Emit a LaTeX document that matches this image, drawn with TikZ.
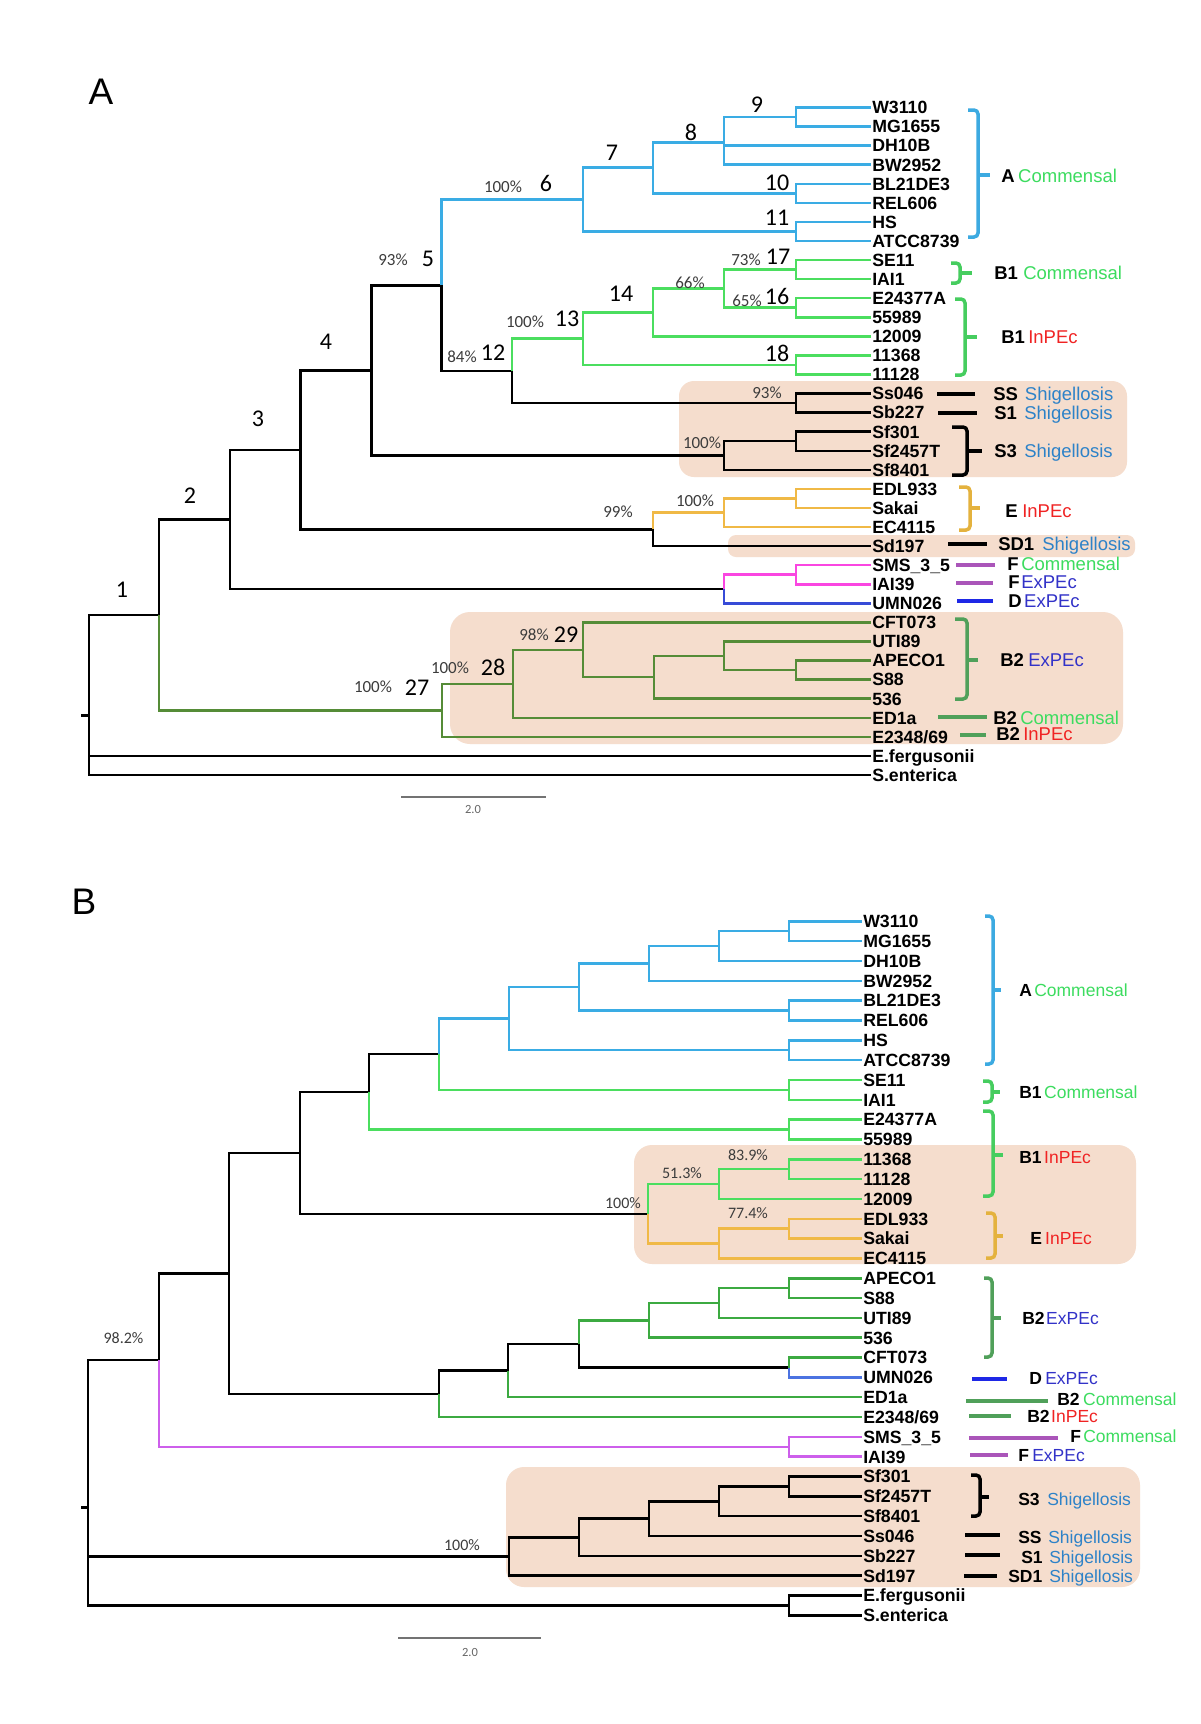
\documentclass[tikz,border=0pt]{standalone}
\usepackage{fontspec}
\setmainfont{Liberation Sans}
\newfontfamily\calib{Carlito}
\definecolor{cA}{RGB}{58,172,228}
\definecolor{cB1}{RGB}{75,222,95}
\definecolor{cB2a}{RGB}{85,140,55}
\definecolor{cB2b}{RGB}{60,170,65}
\definecolor{cE}{RGB}{240,185,70}
\definecolor{cMa}{RGB}{250,70,225}
\definecolor{cMb}{RGB}{205,95,235}
\definecolor{cDa}{RGB}{55,75,215}
\definecolor{cDb}{RGB}{75,115,225}
\definecolor{tComm}{RGB}{60,220,95}
\definecolor{tRed}{RGB}{240,35,35}
\definecolor{tEx}{RGB}{50,50,200}
\definecolor{tShig}{RGB}{45,130,200}
\definecolor{kA}{RGB}{60,170,225}
\definecolor{kPur}{RGB}{170,85,185}
\definecolor{kB1}{RGB}{70,205,95}
\definecolor{kB2}{RGB}{80,160,90}
\definecolor{kE}{RGB}{228,178,62}
\definecolor{kD}{RGB}{30,40,230}
\definecolor{boxc}{RGB}{245,221,205}
\definecolor{pctc}{RGB}{60,60,60}
\newcommand\mylab[4]{\textbf{#1}\hspace{#2pt}\textcolor{#3}{#4}}
\newcommand\mybrk[7]{\draw[brk,#1] (#6,#3) -- (#2,#3) -- (#2,#4) -- (#6,#4); \draw[brk,#1] (#2,#5) -- (#7,#5);}
\newcommand\mydash[4]{\draw[dsh,#1] (#2,#4) -- (#3,#4);}
\begin{document}
\begin{tikzpicture}[x=1pt,y=-1pt,line width=2.5pt,
  leaf/.style={anchor=west,inner sep=0pt,font=\fontsize{17.7}{19}\selectfont\bfseries,text height=12.7pt,text depth=0pt},
  ann/.style={anchor=west,inner sep=0pt,font=\fontsize{18.5}{20}\selectfont,text height=13.2pt,text depth=0pt},
  annB/.style={anchor=west,inner sep=0pt,font=\fontsize{17.5}{19}\selectfont,text height=12.5pt,text depth=0pt},
  pct/.style={inner sep=0pt,text=pctc,font=\calib\fontsize{17}{18}\selectfont},
  pctB/.style={inner sep=0pt,text=pctc,font=\calib\fontsize{16}{17}\selectfont},
  num/.style={inner sep=0pt,font=\calib\fontsize{24}{26}\selectfont},
  brk/.style={line width=3.5pt,rounded corners=4pt},
  dsh/.style={line width=4pt},
  sbar/.style={line width=1.4pt,draw=black!55},
  stxt/.style={inner sep=0pt,text=black!60,font=\calib\fontsize{12.5}{13}\selectfont},
  panel/.style={inner sep=0pt,font=\fontsize{37}{40}\selectfont}]
\fill[white] (0,0) rectangle (1200,1724);
\useasboundingbox (0,0) rectangle (1200,1724);

% ---------- shaded boxes
\fill[boxc,rounded corners=15pt] (679,381) rectangle (1127,477);
\fill[boxc,rounded corners=8pt] (728,535) rectangle (1135,557);
\fill[boxc,rounded corners=20pt] (450,612) rectangle (1123,744);
\fill[boxc,rounded corners=18pt] (634,1145) rectangle (1136,1264);
\fill[boxc,rounded corners=18pt] (506,1467) rectangle (1140,1587);

\node[panel] (pA) at (101,92) {A};
\node[panel] (pB) at (84,902) {B};

% ---------- panel A leaves
\foreach \n [count=\i] in {W3110,MG1655,DH10B,BW2952,BL21DE3,REL606,HS,ATCC8739,SE11,IAI1,E24377A,55989,12009,11368,11128,Ss046,Sb227,Sf301,Sf2457T,Sf8401,EDL933,Sakai,EC4115,Sd197,SMS\_3\_5,IAI39,UMN026,CFT073,UTI89,APECO1,S88,536,ED1a,{E2348/69},E.fergusonii,S.enterica}{
  \coordinate (ea\i) at (871,{107.5+19.07*(\i-1)});
  \node[leaf] (la\i) at (ea\i) {\n};
}
% ---------- panel A internal nodes
\coordinate (naR) at (89,715.3);
\coordinate (naS) at (81,715.3);
\coordinate (na1) at (159,614.9);
\coordinate (na2) at (230,519.5);
\coordinate (na3) at (300.7,449.9);
\coordinate (na4) at (371.7,370.4);
\coordinate (na5) at (441.7,285.3);
\coordinate (na6) at (583,199.6);
\coordinate (na7) at (653,167.7);
\coordinate (na8) at (724,142.4);
\coordinate (na9) at (796,117.0);
\coordinate (na10) at (796,193.3);
\coordinate (na11) at (796,231.5);
\coordinate (na12) at (512,370.9);
\coordinate (na13) at (583,338.7);
\coordinate (na14) at (653,312.5);
\coordinate (na15) at (724,288.7);
\coordinate (na16) at (796,307.7);
\coordinate (na17) at (796,269.6);
\coordinate (na18) at (796,364.9);
\coordinate (naSS) at (796,403.1);
\coordinate (naSf) at (724,455.5);
\coordinate (naSf2) at (796,441.2);
\coordinate (naESd) at (653,529.4);
\coordinate (naE) at (724,512.7);
\coordinate (naEs) at (796,498.4);
\coordinate (naFD) at (724,589.0);
\coordinate (naF) at (796,574.7);
\coordinate (na27) at (442,710.3);
\coordinate (na28) at (513,683.8);
\coordinate (na29) at (583,649.8);
\coordinate (na30) at (654,677.2);
\coordinate (na31) at (724,655.8);
\coordinate (na32) at (796,670.1);

\draw (naR) -- (naS);
\foreach \p/\c in {naR/na1,naR/ea35,naR/ea36,na1/na2,na2/na3,na2/naFD,na3/na4,na3/naESd,na4/na5,na4/naSf,na5/na12,na12/naSS,naSS/ea16,naSS/ea17,naSf/naSf2,naSf/ea20,naSf2/ea18,naSf2/ea19,naESd/ea24}
  \draw (\p) |- (\c);
\foreach \p/\c in {na5/na6,na6/na7,na6/na11,na7/na8,na7/na10,na8/na9,na8/ea3,na8/ea4,na9/ea1,na9/ea2,na10/ea5,na10/ea6,na11/ea7,na11/ea8}
  \draw[cA] (\p) |- (\c);
\foreach \p/\c in {na12/na13,na13/na14,na13/na18,na14/na15,na14/ea13,na15/na17,na15/na16,na17/ea9,na17/ea10,na16/ea11,na16/ea12,na18/ea14,na18/ea15}
  \draw[cB1] (\p) |- (\c);
\foreach \p/\c in {naESd/naE,naE/naEs,naE/ea23,naEs/ea21,naEs/ea22}
  \draw[cE] (\p) |- (\c);
\foreach \p/\c in {naFD/naF,naF/ea25,naF/ea26}
  \draw[cMa] (\p) |- (\c);
\draw[cDa] (naFD) |- (ea27);
\foreach \p/\c in {na1/na27,na27/na28,na27/ea34,na28/na29,na28/ea33,na29/ea28,na29/na30,na30/na31,na30/ea32,na31/ea29,na31/na32,na32/ea30,na32/ea31}
  \draw[cB2a] (\p) |- (\c);

% ---------- panel A node labels
\node[num] (ka1) at (122,590) {1};
\node[num] (ka2) at (190,496) {2};
\node[num] (ka3) at (258,419) {3};
\node[num] (ka4) at (326,342) {4};
\node[num] (ka5) at (428,259) {5};
\node[num] (ka6) at (546,183) {6};
\node[num] (ka7) at (612,153) {7};
\node[num] (ka8) at (691,132) {8};
\node[num] (ka9) at (757,105) {9};
\node[num] (ka10) at (777,183) {10};
\node[num] (ka11) at (777,218) {11};
\node[num] (ka17) at (778,257) {17};
\node[num] (ka16) at (777,296) {16};
\node[num] (ka14) at (621,294) {14};
\node[num] (ka13) at (567,319) {13};
\node[num] (ka12) at (493,353) {12};
\node[num] (ka18) at (777,353) {18};
\node[num] (ka27) at (417,688) {27};
\node[num] (ka28) at (493,667) {28};
\node[num] (ka29) at (566,635) {29};
\node[pct] (qa1) at (393,260) {93\%};
\node[pct] (qa2) at (503,187) {100\%};
\node[pct] (qa3) at (746,260) {73\%};
\node[pct] (qa4) at (690,283) {66\%};
\node[pct] (qa5) at (747,301) {65\%};
\node[pct] (qa6) at (525,322) {100\%};
\node[pct] (qa7) at (462,357) {84\%};
\node[pct] (qa8) at (767,393) {93\%};
\node[pct] (qa9) at (702,443) {100\%};
\node[pct] (qa10) at (618,512) {99\%};
\node[pct] (qa11) at (695,501) {100\%};
\node[pct] (qa12) at (373,687) {100\%};
\node[pct] (qa13) at (450,668) {100\%};
\node[pct] (qa14) at (534,635) {98\%};

% ---------- panel A annotations
\mybrk{kA}{978}{110}{237}{175}{968}{990}
\mybrk{kB1}{960}{263}{283}{273}{951}{972}
\mybrk{kB1}{965}{299}{375}{337}{955}{977}
\mybrk{black}{967}{427}{475}{451}{952}{982}
\mybrk{kE}{970}{487}{530}{508}{959}{980}
\mybrk{kB2}{967}{619}{699}{660}{955}{978}
\mydash{black}{937}{975}{394}
\mydash{black}{938}{977}{413}
\mydash{black}{948}{987}{544}
\mydash{kPur}{956}{995}{565}
\mydash{kPur}{956}{993}{583}
\mydash{kD}{957}{993}{601}
\mydash{kB2}{938}{987}{717}
\mydash{kB2}{960}{986}{735}
\node[ann] (ta1) at (1000,176) {\mylab{A}{3.6}{tComm}{Commensal}};
\node[ann] (ta2) at (993,273) {\mylab{B1}{5.4}{tComm}{Commensal}};
\node[ann] (ta3) at (1000,337) {\mylab{B1}{3.4}{tRed}{InPEc}};
\node[ann] (ta4) at (992,394) {\mylab{SS}{7}{tShig}{Shigellosis}};
\node[ann] (ta5) at (993,413) {\mylab{S1}{7.4}{tShig}{Shigellosis}};
\node[ann] (ta6) at (993,451) {\mylab{S3}{7.4}{tShig}{Shigellosis}};
\node[ann] (ta7) at (1004,511) {\mylab{E}{4.7}{tRed}{InPEc}};
\node[ann] (ta8) at (997,544) {\mylab{SD1}{8}{tShig}{Shigellosis}};
\node[ann] (ta9) at (1006,564) {\mylab{F}{2.7}{tComm}{Commensal}};
\node[ann] (ta10) at (1007,582) {\mylab{F}{1.7}{tEx}{ExPEc}};
\node[ann] (ta11) at (1007,601) {\mylab{D}{2.6}{tEx}{ExPEc}};
\node[ann] (ta12) at (999,660) {\mylab{B2}{4.4}{tEx}{ExPEc}};
\node[ann] (ta13) at (992,718) {\mylab{B2}{3.4}{tComm}{Commensal}};
\node[ann] (ta14) at (995,734) {\mylab{B2}{3.4}{tRed}{InPEc}};

% scale bar A
\coordinate (sa1) at (401,797);
\coordinate (sa2) at (546,797);
\draw[sbar] (sa1) -- (sa2);
\node[stxt] (sat) at (473,809) {2.0};

% ---------- panel B leaves
\foreach \n [count=\i] in {W3110,MG1655,DH10B,BW2952,BL21DE3,REL606,HS,ATCC8739,SE11,IAI1,E24377A,55989,11368,11128,12009,EDL933,Sakai,EC4115,APECO1,S88,UTI89,536,CFT073,UMN026,ED1a,{E2348/69},SMS\_3\_5,IAI39,Sf301,Sf2457T,Sf8401,Ss046,Sb227,Sd197,E.fergusonii,S.enterica}{
  \coordinate (eb\i) at (862,{921.3+19.83*(\i-1)});
  \node[leaf] (lb\i) at (eb\i) {\n};
}
% ---------- panel B internal nodes
\coordinate (nbR) at (88,1507.4);
\coordinate (nbS) at (81,1507.4);
\coordinate (nb1) at (789,931.2);
\coordinate (nb2) at (719,946.1);
\coordinate (nb3) at (649,963.5);
\coordinate (nb4) at (789,1010.6);
\coordinate (nb5) at (579,987.0);
\coordinate (nb6) at (789,1050.2);
\coordinate (nb7) at (509,1018.6);
\coordinate (nb8) at (789,1089.9);
\coordinate (nb9) at (439,1054.2);
\coordinate (nb10) at (789,1129.5);
\coordinate (nb11) at (369,1091.9);
\coordinate (nb12) at (789,1169.2);
\coordinate (nb13) at (719,1184.0);
\coordinate (nb14) at (789,1228.7);
\coordinate (nb15) at (719,1243.6);
\coordinate (nb16) at (648,1213.8);
\coordinate (nb17) at (300,1152.9);
\coordinate (nb18) at (789,1288.2);
\coordinate (nb19) at (719,1303.0);
\coordinate (nb20) at (649,1320.4);
\coordinate (nb21) at (789,1367.5);
\coordinate (nb22) at (579,1344.0);
\coordinate (nb23) at (508,1370.6);
\coordinate (nb24) at (439,1393.8);
\coordinate (nb25) at (229,1273.4);
\coordinate (nb26) at (789,1446.8);
\coordinate (nb27) at (159,1360.1);
\coordinate (nb28) at (789,1486.5);
\coordinate (nb29) at (719,1501.3);
\coordinate (nb30) at (649,1518.7);
\coordinate (nb31) at (579,1537.3);
\coordinate (nb32) at (509,1556.5);
\coordinate (nb33) at (789,1605.5);

\draw (nbR) -- (nbS);
\foreach \p/\c in {nbR/nb27,nbR/nb32,nbR/nb33,nb33/eb35,nb33/eb36,nb27/nb25,nb25/nb17,nb25/nb24,nb17/nb11,nb17/nb16,nb11/nb9,nb24/nb23,nb23/nb22,nb22/nb21,nb32/nb31,nb32/eb34,nb31/nb30,nb31/eb33,nb30/nb29,nb30/eb32,nb29/nb28,nb29/eb31,nb28/eb29,nb28/eb30}
  \draw (\p) |- (\c);
\foreach \p/\c in {nb9/nb7,nb7/nb5,nb7/nb6,nb5/nb3,nb5/nb4,nb3/nb2,nb3/eb4,nb2/nb1,nb2/eb3,nb1/eb1,nb1/eb2,nb4/eb5,nb4/eb6,nb6/eb7,nb6/eb8}
  \draw[cA] (\p) |- (\c);
\foreach \p/\c in {nb9/nb8,nb8/eb9,nb8/eb10,nb11/nb10,nb10/eb11,nb10/eb12,nb16/nb13,nb13/nb12,nb13/eb15,nb12/eb13,nb12/eb14}
  \draw[cB1] (\p) |- (\c);
\foreach \p/\c in {nb16/nb15,nb15/nb14,nb15/eb18,nb14/eb16,nb14/eb17}
  \draw[cE] (\p) |- (\c);
\foreach \p/\c in {nb24/eb26,nb23/eb25,nb22/nb20,nb20/nb19,nb20/eb22,nb19/nb18,nb19/eb21,nb18/eb19,nb18/eb20,nb21/eb23}
  \draw[cB2b] (\p) |- (\c);
\draw[cDb] (nb21) |- (eb24);
\foreach \p/\c in {nb27/nb26,nb26/eb27,nb26/eb28}
  \draw[cMb] (\p) |- (\c);

% ---------- panel B labels
\node[pctB] (qb1) at (623,1203) {100\%};
\node[pctB] (qb2) at (682,1173) {51.3\%};
\node[pctB] (qb3) at (748,1155) {83.9\%};
\node[pctB] (qb4) at (748,1213) {77.4\%};
\node[pctB] (qb5) at (123.5,1338) {98.2\%};
\node[pctB] (qb6) at (462,1545) {100\%};

% ---------- panel B annotations
\mybrk{kA}{993}{916}{1064}{990}{985}{1001}
\mybrk{kB1}{992}{1081}{1102}{1092}{983}{1000}
\mybrk{kB1}{993}{1111}{1196}{1155}{983}{1003}
\mybrk{kE}{995}{1213}{1258}{1236}{986}{1003}
\mybrk{kB2}{992}{1278}{1357}{1318}{984}{1001}
\mybrk{black}{980}{1475}{1516}{1497}{971}{989}
\mydash{kD}{972}{1007}{1379}
\mydash{kB2}{966}{1048}{1401}
\mydash{kB2}{969}{1011}{1416}
\mydash{kPur}{969}{1058}{1438}
\mydash{kPur}{970}{1008}{1455}
\mydash{black}{965}{1000}{1535}
\mydash{black}{965}{1000}{1555}
\mydash{black}{964}{997}{1576}
\node[annB] (tb1) at (1018,990) {\mylab{A}{2.4}{tComm}{Commensal}};
\node[annB] (tb2) at (1018,1092) {\mylab{B1}{2.6}{tComm}{Commensal}};
\node[annB] (tb3) at (1018,1157) {\mylab{B1}{2.6}{tRed}{InPEc}};
\node[annB] (tb4) at (1029,1238) {\mylab{E}{3.3}{tRed}{InPEc}};
\node[annB] (tb5) at (1021,1318) {\mylab{B2}{1.6}{tEx}{ExPEc}};
\node[annB] (tb6) at (1028,1378) {\mylab{D}{3.4}{tEx}{ExPEc}};
\node[annB] (tb7) at (1056,1399) {\mylab{B2}{3.6}{tComm}{Commensal}};
\node[annB] (tb8) at (1026,1416) {\mylab{B2}{1.6}{tRed}{InPEc}};
\node[annB] (tb9) at (1069,1436) {\mylab{F}{2.3}{tComm}{Commensal}};
\node[annB] (tb10) at (1017,1455) {\mylab{F}{3.3}{tEx}{ExPEc}};
\node[annB] (tb11) at (1017,1499) {\mylab{S3}{7.6}{tShig}{Shigellosis}};
\node[annB] (tb12) at (1017,1537) {\mylab{SS}{6.7}{tShig}{Shigellosis}};
\node[annB] (tb13) at (1020,1557) {\mylab{S1}{6.6}{tShig}{Shigellosis}};
\node[annB] (tb14) at (1007,1576) {\mylab{SD1}{7}{tShig}{Shigellosis}};

% scale bar B
\coordinate (sb1) at (398,1638);
\coordinate (sb2) at (541,1638);
\draw[sbar] (sb1) -- (sb2);
\node[stxt] (sbt) at (470,1652) {2.0};
\end{tikzpicture}
\end{document}
